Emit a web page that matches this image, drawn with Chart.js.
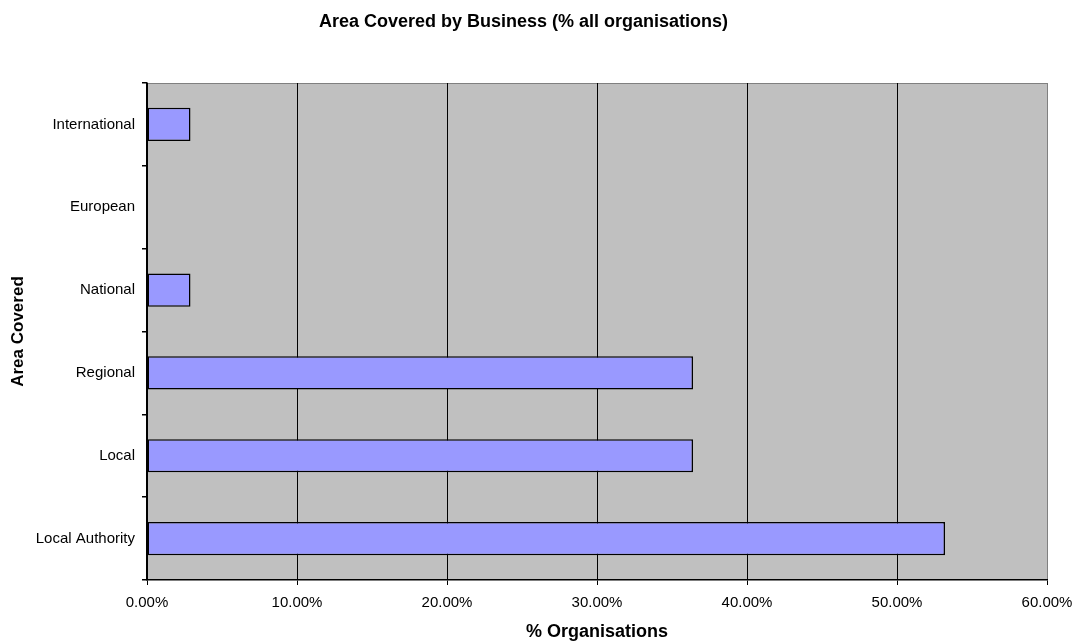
<!DOCTYPE html>
<html>
<head>
<meta charset="utf-8">
<script src="https://cdn.jsdelivr.net/npm/chart.js@4/dist/chart.umd.min.js"></script>
<style>
  body { margin: 0; background: #fff; }
  canvas { display: block; }
</style>
</head>
<body>
<canvas id="grafico" width="1082" height="641"></canvas>
<script>
// categorias (de baixo para cima) e percentagens
const areas = ['Local Authority', 'Local', 'Regional', 'National', 'European', 'International'];
const percentagens = [53.2, 36.4, 36.4, 2.9, 0, 2.9];
const ticksX = [0, 10, 20, 30, 40, 50, 60];

const fonte = 'Arial, "Liberation Sans", sans-serif';

// fundo cinzento da área do gráfico e borda superior
const fundoArea = {
  id: 'fundoArea',
  beforeDraw(chart) {
    const { ctx, chartArea: a } = chart;
    ctx.save();
    ctx.fillStyle = '#C0C0C0';
    ctx.fillRect(a.left, a.top, a.right - a.left, a.bottom - a.top);
    ctx.strokeStyle = '#808080';
    ctx.lineWidth = 1;
    ctx.beginPath();
    ctx.moveTo(a.left, Math.floor(a.top) + 0.5);
    ctx.lineTo(a.right, Math.floor(a.top) + 0.5);
    ctx.stroke();
    ctx.restore();
  }
};

const ctx = document.getElementById('grafico').getContext('2d');

new Chart(ctx, {
  type: 'bar',
  data: {
    labels: areas,
    datasets: [{
      label: '% Organisations',
      data: percentagens,
      backgroundColor: '#9999FF',
      borderColor: '#000000',
      borderWidth: 1.5,
      borderSkipped: false,
      barPercentage: 0.4,
      categoryPercentage: 1
    }]
  },
  options: {
    indexAxis: 'y',
    responsive: false,
    animation: false,
    layout: { padding: { left: 0, right: 35, top: 0, bottom: 0 } },
    plugins: {
      legend: { display: false },
      tooltip: { enabled: false },
      title: {
        display: true,
        text: 'Area Covered by Business (% all organisations)',
        color: '#000',
        font: { family: fonte, size: 18, weight: 'bold', lineHeight: 1.2 },
        padding: { top: 11, bottom: 50.4 }
      }
    },
    scales: {
      x: {
        min: 0,
        max: 60,
        afterBuildTicks: (scale) => {
          scale.ticks = ticksX.map(v => ({ value: v }));
        },
        afterFit: (scale) => { scale.height = 61; },
        ticks: {
          color: '#000',
          font: { family: fonte, size: 15 },
          padding: 9,
          maxRotation: 0,
          callback: (v) => Number(v).toFixed(2) + '%'
        },
        grid: {
          color: (c) => (c.tick && c.tick.value === 60 ? '#808080' : '#000000'),
          tickColor: '#000000',
          tickLength: 5,
          lineWidth: 1
        },
        border: { color: '#000000', width: 1.5 },
        title: {
          display: true,
          text: '% Organisations',
          color: '#000',
          font: { family: fonte, size: 18, weight: 'bold', lineHeight: 1 },
          padding: { top: 11, bottom: 0 }
        }
      },
      y: {
        reverse: true,
        afterFit: (scale) => { scale.width = 147; },
        ticks: {
          color: '#000',
          font: { family: fonte, size: 15 },
          padding: 7
        },
        grid: {
          offset: true,
          drawOnChartArea: false,
          tickColor: '#000000',
          tickLength: 5,
          lineWidth: 1.5
        },
        border: { color: '#000000', width: 1.5 },
        title: {
          display: true,
          text: 'Area Covered',
          color: '#000',
          font: { family: fonte, size: 17, weight: 'bold', lineHeight: 1 },
          padding: { top: 10, bottom: 0 }
        }
      }
    }
  },
  plugins: [fundoArea]
});
</script>
</body>
</html>
